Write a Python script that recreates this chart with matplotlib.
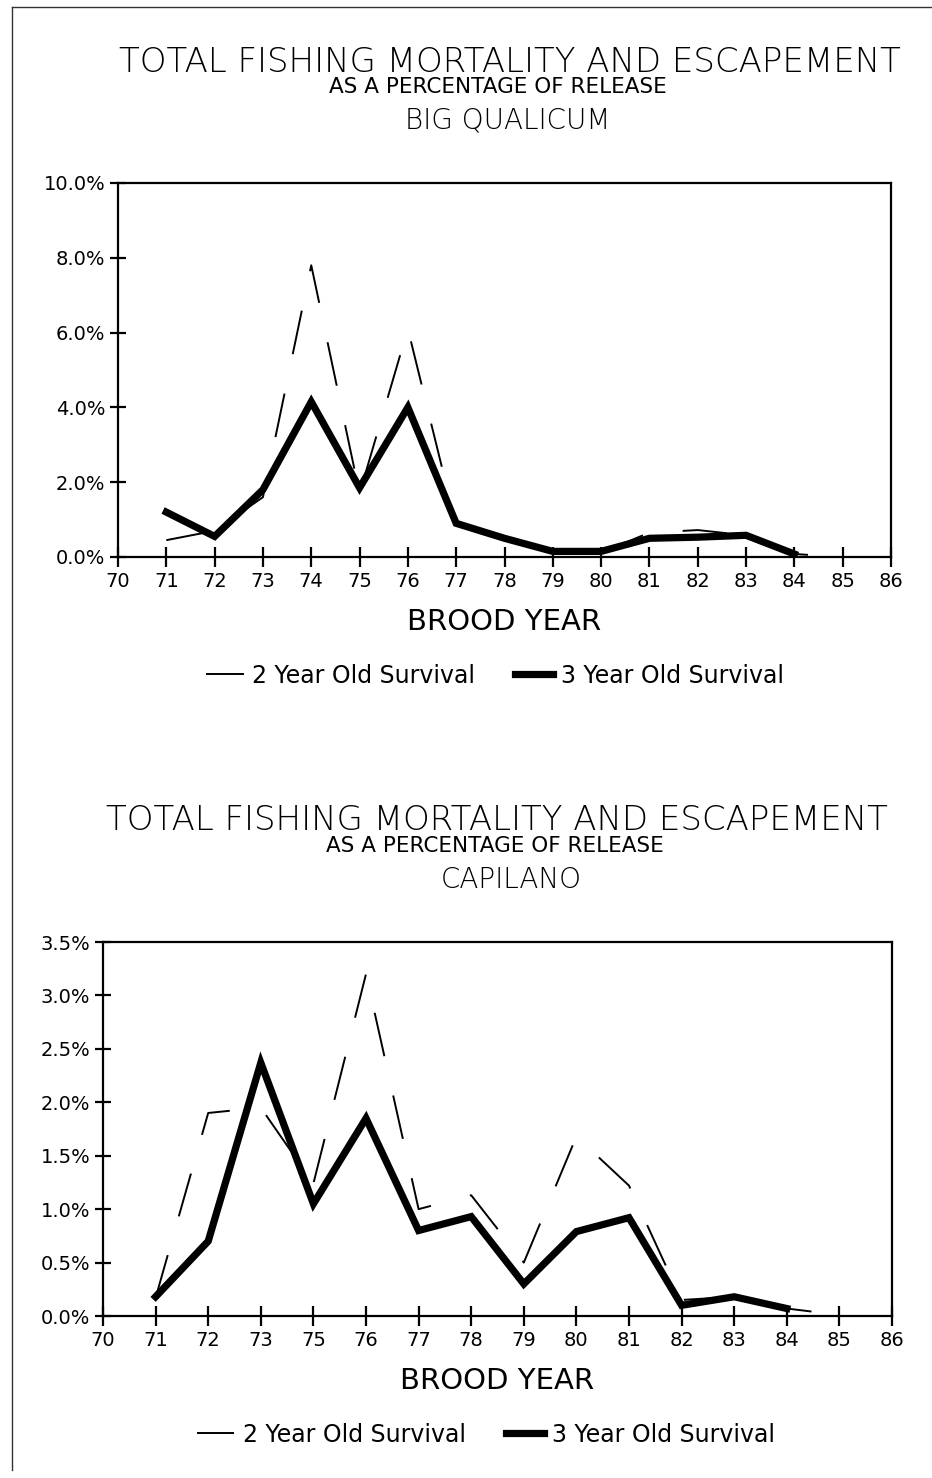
import matplotlib
matplotlib.use("Agg")
import matplotlib.pyplot as plt
from matplotlib.lines import Line2D
from matplotlib.ticker import FixedLocator, FuncFormatter

plt.rcParams['font.family'] = ['DejaVu Sans']
plt.rcParams['lines.scale_dashes'] = False

# ---------------- data ----------------
title_main = "TOTAL FISHING MORTALITY AND ESCAPEMENT"
title_sub = "AS A PERCENTAGE OF RELEASE"
xlabel = "BROOD YEAR"
series_names = ["2 Year Old Survival", "3 Year Old Survival"]

# Big Qualicum
bq_axis_years = list(range(70, 87))
bq_years_2yr = [71, 72, 73, 74, 75, 76, 77, 78, 79, 80, 81, 82, 83, 84, 85]
bq_2yr = [0.45, 0.70, 1.60, 7.80, 1.70, 6.10, 0.85, 0.45, 0.12, 0.12, 0.65, 0.72, 0.58, 0.08, 0.0]
bq_years_3yr = [71, 72, 73, 74, 75, 76, 77, 78, 79, 80, 81, 82, 83, 84]
bq_3yr = [1.20, 0.55, 1.80, 4.15, 1.85, 4.00, 0.90, 0.50, 0.15, 0.15, 0.50, 0.53, 0.58, 0.08]
bq_yticks = [0, 2, 4, 6, 8, 10]

# Capilano (74 does not appear on the axis)
cap_axis_labels = ["70", "71", "72", "73", "75", "76", "77", "78", "79",
                   "80", "81", "82", "83", "84", "85", "86"]
cap_labels_2yr = ["71", "72", "73", "75", "76", "77", "78", "79", "80",
                  "81", "82", "83", "84", "85"]
cap_2yr = [0.17, 1.90, 1.95, 1.24, 3.20, 1.00, 1.13, 0.50, 1.68, 1.22, 0.15, 0.18, 0.07, 0.01]
cap_labels_3yr = ["71", "72", "73", "75", "76", "77", "78", "79", "80",
                  "81", "82", "83", "84"]
cap_3yr = [0.18, 0.70, 2.37, 1.05, 1.85, 0.80, 0.93, 0.30, 0.79, 0.92, 0.10, 0.18, 0.07]
cap_yticks = [0, 0.5, 1.0, 1.5, 2.0, 2.5, 3.0, 3.5]

W, H = 932, 1478
fig = plt.figure(figsize=(W / 100, H / 100), dpi=100)

def fx(px):
    return px / W

def fy(py):
    return 1 - py / H

# page frame (scan border)
fig.add_artist(Line2D([fx(12), fx(12)], [fy(7), fy(1470)], color='#333333', lw=1.0))
fig.add_artist(Line2D([fx(12), fx(932)], [fy(7), fy(7)], color='#333333', lw=1.0))

DASH = (0, (32, 29))

def style_axes(ax):
    for s in ax.spines.values():
        s.set_linewidth(1.6)
        s.set_color('black')
    ax.tick_params(axis='x', direction='inout', length=15, width=1.6,
                   labelsize=14, pad=3)
    ax.tick_params(axis='y', direction='inout', length=12, width=1.6,
                   labelsize=14, pad=3)

def add_titles(cx_main, cy_main, cx_sub, cy_sub, cx_site, cy_site, site):
    fig.text(fx(cx_main), fy(cy_main), title_main, ha='center', va='center',
             fontsize=24.5, fontweight='light')
    fig.text(fx(cx_sub), fy(cy_sub), title_sub, ha='center', va='center',
             fontsize=15.5)
    fig.text(fx(cx_site), fy(cy_site), site, ha='center', va='center',
             fontsize=20, fontweight='light')

pct = FuncFormatter(lambda v, p: f"{v:.1f}%")

def finish(ax, lines, lx, leg_x):
    style_axes(ax)
    ax.set_xlabel(xlabel, fontsize=21, va='center')
    ax.xaxis.set_label_coords(lx, -0.174)
    ax.legend(lines, series_names, loc='center', bbox_to_anchor=(leg_x, -0.317),
              ncol=2, frameon=False, fontsize=17, handlelength=1.6,
              handletextpad=0.35, columnspacing=1.7)

# ---------- top chart: Big Qualicum ----------
ax1 = fig.add_axes([fx(118), fy(557), fx(891) - fx(118), fy(183) - fy(557)])
l1, = ax1.plot(bq_years_2yr, bq_2yr, color='black', lw=1.4, linestyle=DASH)
l2, = ax1.plot(bq_years_3yr, bq_3yr, color='black', lw=5.2, solid_joinstyle='miter')
ax1.set_xlim(70, 86)
ax1.set_ylim(0, 10)
ax1.set_xticks(bq_axis_years)
ax1.set_xticklabels([str(y) for y in bq_axis_years])
ax1.yaxis.set_major_locator(FixedLocator(bq_yticks))
ax1.yaxis.set_major_formatter(pct)
finish(ax1, [l1, l2], 0.499, 0.488)
add_titles(510, 62, 498, 87, 508, 120, "BIG QUALICUM")

# ---------- bottom chart: Capilano ----------
ax2 = fig.add_axes([fx(103), fy(1316), fx(892) - fx(103), fy(942) - fy(1316)])
pos = {lab: i for i, lab in enumerate(cap_axis_labels)}
m1, = ax2.plot([pos[l] for l in cap_labels_2yr], cap_2yr, color='black', lw=1.4,
               linestyle=DASH)
m2, = ax2.plot([pos[l] for l in cap_labels_3yr], cap_3yr, color='black', lw=5.2,
               solid_joinstyle='miter')
ax2.set_xlim(0, len(cap_axis_labels) - 1)
ax2.set_ylim(0, 3.5)
ax2.set_xticks(range(len(cap_axis_labels)))
ax2.set_xticklabels(cap_axis_labels)
ax2.yaxis.set_major_locator(FixedLocator(cap_yticks))
ax2.yaxis.set_major_formatter(pct)
finish(ax2, [m1, m2], 0.499, 0.485)
add_titles(497, 820, 495, 846, 511, 880, "CAPILANO")

fig.savefig("out.png", dpi=100)
